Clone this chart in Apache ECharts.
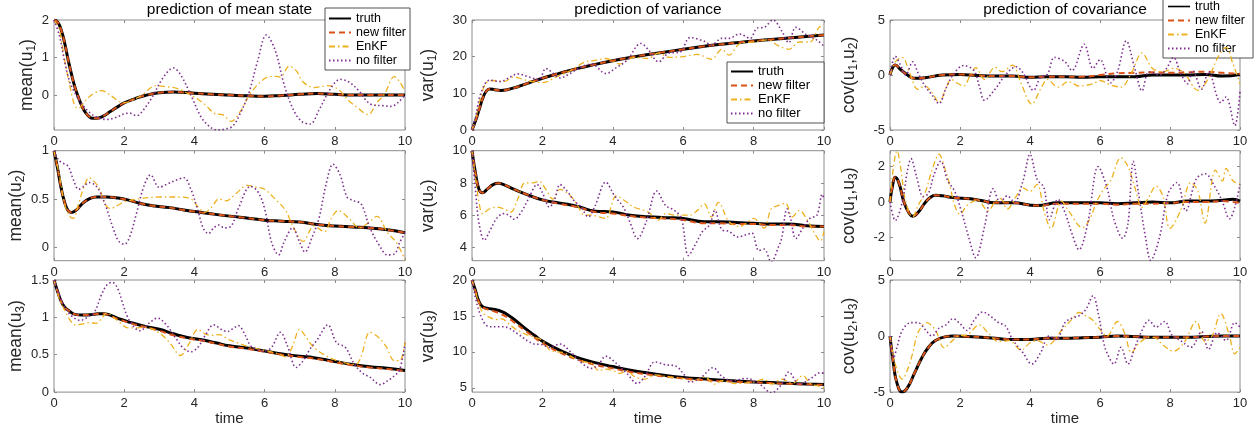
<!DOCTYPE html>
<html lang="en">
<head>
<meta charset="utf-8">
<title>prediction of mean state, variance and covariance</title>
<script src="https://cdn.jsdelivr.net/npm/echarts@6/dist/echarts.min.js"></script>
<style>
  html, body { margin: 0; padding: 0; background: #fff; }
  #main { width: 1255px; height: 427px; }
</style>
</head>
<body>
<div id="main"></div>
<script>
// ---- data: [time, value] ----
var seriesNames = ['truth', 'new filter', 'EnKF', 'no filter'];
var timeTicks = [0, 2, 4, 6, 8, 10];

// mean(u1)
var mean1Truth = [[0,2],[0.1,1.95],[0.2,1.75],[0.3,1.4],[0.4,0.95],[0.5,0.55],[0.6,0.2],[0.7,-0.07],[0.8,-0.3],[0.9,-0.47],[1.0,-0.57],[1.1,-0.62],[1.2,-0.62],[1.4,-0.56],[1.6,-0.44],[1.8,-0.32],[2.0,-0.21],[2.3,-0.1],[2.6,-0.01],[3.0,0.06],[3.4,0.08],[4.0,0.05],[4.5,0.02],[5.0,0.0],[5.5,-0.02],[6.0,-0.03],[6.5,-0.01],[7.0,0.02],[7.5,0.04],[8.0,0.02],[8.5,0.0],[9.0,0.0],[10,0.0]];
var mean1New = mean1Truth;
var mean1EnKF = [[0,2],[0.15,1.75],[0.3,0.95],[0.45,0.25],[0.6,-0.3],[0.7,-0.35],[0.85,-0.2],[1.0,-0.05],[1.2,0.08],[1.35,0.12],[1.6,0.0],[1.85,-0.17],[2.0,-0.2],[2.2,-0.15],[2.5,0.0],[2.9,0.25],[3.2,0.22],[3.5,0.18],[3.8,0.05],[4.0,-0.05],[4.3,-0.25],[4.6,-0.5],[4.8,-0.52],[5.05,-0.7],[5.3,-0.45],[5.6,0.05],[6.0,0.44],[6.3,0.5],[6.45,0.48],[6.7,0.77],[6.9,0.65],[7.1,0.35],[7.4,0.2],[7.8,0.25],[8.1,0.15],[8.4,-0.15],[8.6,-0.3],[8.95,-0.52],[9.2,-0.2],[9.4,0.0],[9.7,0.49],[9.85,0.35],[10,0.1]];
var mean1NoFilter = [[0,2],[0.15,1.6],[0.3,0.9],[0.45,0.35],[0.6,0.05],[0.8,-0.25],[1.0,-0.45],[1.2,-0.58],[1.5,-0.65],[1.75,-0.6],[2.0,-0.5],[2.15,-0.48],[2.35,-0.55],[2.5,-0.45],[2.8,-0.05],[3.1,0.45],[3.4,0.72],[3.6,0.55],[3.9,0.0],[4.2,-0.6],[4.45,-0.85],[4.65,-0.93],[4.9,-0.9],[5.1,-0.82],[5.3,-0.5],[5.55,0.05],[5.8,0.9],[6.05,1.6],[6.3,1.2],[6.55,0.3],[6.8,-0.35],[7.05,-0.7],[7.3,-0.77],[7.55,-0.4],[7.8,0.05],[8.0,0.33],[8.15,0.42],[8.4,0.35],[8.7,0.1],[8.9,-0.15],[9.1,-0.27],[9.35,-0.28],[9.6,-0.3],[9.8,-0.2],[10,0.0]];

// var(u1)
var var1Truth = [[0,0],[0.1,2.5],[0.2,5.5],[0.3,8.5],[0.4,10.5],[0.5,11.2],[0.65,11.0],[0.8,10.8],[1.0,11.0],[1.3,11.8],[1.6,12.8],[2.0,14.1],[2.5,15.5],[3.0,16.8],[3.5,17.9],[4.0,18.9],[4.5,19.8],[5.0,20.6],[5.5,21.3],[6.0,22.0],[6.5,22.7],[7.0,23.3],[7.5,23.8],[8.0,24.3],[8.5,24.7],[9.0,25.1],[9.5,25.5],[10,25.9]];
var var1New = var1Truth;
var var1EnKF = [[0,0],[0.1,3],[0.25,9],[0.4,12.8],[0.6,13.5],[0.9,13.2],[1.2,14.5],[1.45,13.8],[1.7,13.2],[2.0,12.9],[2.4,14.5],[2.8,16.2],[3.2,18.5],[3.5,19.0],[3.8,19.5],[4.2,18.0],[4.6,19.8],[5.0,19.5],[5.3,21.0],[5.6,19.8],[6.0,20.0],[6.4,20.6],[6.8,19.3],[7.1,22.0],[7.3,20.4],[7.6,23.5],[8.0,24.0],[8.4,24.6],[8.7,23.0],[9.0,22.0],[9.3,24.0],[9.6,24.0],[9.9,28.2],[10,27.5]];
var var1NoFilter = [[0,0],[0.1,3.5],[0.25,10],[0.5,13.6],[0.8,13.2],[1.0,14.0],[1.3,15.3],[1.6,14.5],[1.9,13.8],[2.1,16.8],[2.3,15.5],[2.5,14.2],[2.8,15.5],[3.1,17.2],[3.4,18.0],[3.8,15.4],[4.1,17.0],[4.4,19.0],[4.8,23.6],[5.0,22.0],[5.3,18.6],[5.6,21.0],[5.9,21.2],[6.2,25.2],[6.6,24.2],[6.8,23.2],[7.1,25.0],[7.3,25.0],[7.6,26.2],[7.9,25.0],[8.1,27.8],[8.3,28.0],[8.55,30.0],[8.8,27.0],[9.0,23.8],[9.2,28.0],[9.5,26.0],[9.8,24.5],[10,22.8]];

// cov(u1,u2)
var cov12Truth = [[0,0],[0.05,0.5],[0.15,0.9],[0.3,0.5],[0.5,0.0],[0.7,-0.3],[1.0,-0.25],[1.5,0.0],[2.0,0.05],[2.5,-0.05],[3.0,-0.1],[3.5,-0.1],[4.0,-0.2],[4.5,-0.15],[5.0,-0.15],[5.5,-0.2],[6.0,-0.15],[6.5,-0.15],[7.0,-0.15],[7.5,0.0],[8.0,0.0],[8.5,0.0],[9.0,0.05],[9.5,-0.1],[10,0.05]];
var cov12New = [[0,0],[0.05,0.5],[0.15,0.9],[0.3,0.5],[0.5,0.0],[0.7,-0.3],[1.0,-0.25],[1.5,0.0],[2.0,0.05],[2.5,-0.05],[3.0,-0.1],[3.5,-0.1],[4.0,-0.2],[4.5,-0.15],[5.0,-0.15],[5.5,-0.15],[6.0,0.0],[6.5,0.15],[7.0,0.2],[7.5,0.25],[8.0,0.2],[8.5,0.25],[9.0,0.3],[9.5,0.2],[10,0.1]];
var cov12EnKF = [[0,0],[0.15,1.2],[0.35,1.6],[0.55,0.3],[0.8,-1.3],[1.0,-1.0],[1.2,-1.6],[1.4,-2.5],[1.6,-1.2],[1.75,-0.4],[1.9,-0.7],[2.1,-1.0],[2.3,0.0],[2.45,0.66],[2.7,-0.4],[3.0,0.7],[3.2,0.3],[3.5,0.9],[3.75,-0.8],[4.05,-2.65],[4.3,-1.3],[4.5,-0.4],[4.8,-1.1],[5.1,-0.6],[5.4,-1.0],[5.8,-0.8],[6.0,-0.5],[6.3,-0.9],[6.6,-1.1],[6.9,0.2],[7.2,2.0],[7.5,0.6],[7.8,0.3],[8.1,0.6],[8.4,0.2],[8.8,-1.4],[9.1,-0.3],[9.35,1.5],[9.6,2.5],[9.8,1.0],[10,-0.8]];
var cov12NoFilter = [[0,0],[0.15,1.7],[0.3,0.9],[0.45,0.0],[0.65,1.2],[0.8,0.2],[1.0,-1.0],[1.2,-1.8],[1.4,-2.6],[1.6,-1.2],[1.8,0.0],[2.1,0.87],[2.4,0.4],[2.55,-1.0],[2.7,-2.3],[3.0,-1.3],[3.3,0.0],[3.6,0.75],[3.8,0.2],[4.1,-1.4],[4.3,-0.2],[4.5,0.1],[4.7,1.6],[5.0,1.2],[5.2,0.4],[5.55,2.8],[5.8,0.6],[6.0,1.4],[6.3,-0.7],[6.5,0.3],[6.75,3.1],[7.0,0.5],[7.2,-1.45],[7.4,0.3],[7.7,0.0],[7.9,0.6],[8.1,1.6],[8.3,0.2],[8.5,-0.8],[8.65,0.4],[8.9,-1.3],[9.1,0.3],[9.45,-2.5],[9.6,-2.0],[9.85,-4.6],[10,-1.5]];

// mean(u2)
var mean2Truth = [[0,1],[0.1,0.82],[0.2,0.62],[0.3,0.47],[0.4,0.38],[0.5,0.36],[0.65,0.39],[0.8,0.45],[1.0,0.5],[1.2,0.52],[1.5,0.52],[1.8,0.51],[2.1,0.49],[2.5,0.45],[2.8,0.43],[3.3,0.41],[3.7,0.385],[4.0,0.37],[4.6,0.34],[5.3,0.31],[6.0,0.28],[6.5,0.27],[7.0,0.26],[7.5,0.235],[8.0,0.22],[8.5,0.21],[9.0,0.2],[9.5,0.18],[10,0.15]];
var mean2New = mean2Truth;
var mean2EnKF = [[0,1],[0.15,0.75],[0.3,0.45],[0.45,0.32],[0.55,0.3],[0.7,0.45],[0.85,0.62],[1.0,0.72],[1.15,0.68],[1.3,0.6],[1.45,0.45],[1.6,0.4],[1.8,0.43],[2.0,0.47],[2.4,0.5],[3.0,0.52],[3.5,0.52],[3.9,0.5],[4.1,0.42],[4.3,0.36],[4.5,0.42],[4.7,0.5],[4.9,0.48],[5.2,0.56],[5.5,0.64],[5.8,0.62],[6.0,0.6],[6.3,0.5],[6.6,0.38],[6.8,0.22],[7.1,0.06],[7.3,0.18],[7.4,0.22],[7.7,0.16],[7.9,0.3],[8.1,0.38],[8.4,0.3],[8.7,0.2],[8.95,0.25],[9.2,0.32],[9.5,0.15],[9.75,0.05],[10,-0.13]];
var mean2NoFilter = [[0,1],[0.1,0.92],[0.2,0.88],[0.4,0.84],[0.55,0.7],[0.7,0.6],[0.85,0.63],[1.0,0.67],[1.15,0.65],[1.3,0.58],[1.5,0.4],[1.7,0.18],[1.85,0.06],[2.0,0.03],[2.15,0.1],[2.35,0.35],[2.55,0.62],[2.75,0.75],[3.0,0.62],[3.2,0.65],[3.45,0.69],[3.7,0.72],[3.9,0.6],[4.1,0.38],[4.25,0.2],[4.4,0.14],[4.55,0.2],[4.7,0.23],[4.85,0.2],[5.05,0.22],[5.25,0.4],[5.6,0.63],[5.8,0.58],[6.0,0.4],[6.2,0.05],[6.4,-0.08],[6.55,0.05],[6.8,0.2],[7.0,0.05],[7.15,-0.05],[7.35,0.1],[7.55,0.3],[7.75,0.65],[7.95,0.86],[8.15,0.75],[8.35,0.52],[8.55,0.48],[8.75,0.45],[9.0,0.2],[9.3,0.0],[9.5,-0.08],[9.7,-0.07],[9.85,0.05],[10,0.15]];

// var(u2)
var var2Truth = [[0,10],[0.1,8.6],[0.2,7.6],[0.3,7.4],[0.45,7.65],[0.6,7.9],[0.75,7.98],[0.9,7.9],[1.2,7.6],[1.6,7.25],[2.0,6.95],[2.5,6.75],[3.0,6.55],[3.5,6.25],[4.0,6.2],[4.5,6.0],[5.0,5.9],[5.5,5.85],[6.0,5.8],[6.6,5.6],[7.0,5.6],[7.5,5.55],[8.0,5.5],[8.5,5.45],[9.0,5.45],[9.5,5.35],[10,5.3]];
var var2New = [[0,10],[0.1,8.6],[0.2,7.6],[0.3,7.4],[0.45,7.65],[0.6,7.9],[0.75,7.98],[0.9,7.9],[1.2,7.6],[1.6,7.25],[2.0,6.95],[2.5,6.7],[3.0,6.5],[3.5,6.2],[4.0,6.1],[4.5,5.95],[5.0,5.85],[5.5,5.8],[6.0,5.7],[6.6,5.5],[7.0,5.5],[7.5,5.45],[8.0,5.45],[8.5,5.4],[9.0,5.4],[9.5,5.3],[10,5.3]];
var var2EnKF = [[0,10],[0.1,8.3],[0.2,6.8],[0.3,6.1],[0.5,6.4],[0.7,6.5],[0.9,6.4],[1.1,6.2],[1.3,7.0],[1.5,8.0],[1.7,8.0],[1.9,8.1],[2.1,7.6],[2.3,7.0],[2.5,7.6],[2.8,7.2],[3.0,6.6],[3.2,6.0],[3.4,6.0],[3.6,5.9],[3.8,5.8],[4.1,7.2],[4.4,6.8],[4.6,6.5],[5.0,6.2],[5.3,5.7],[5.5,6.1],[5.8,6.0],[6.0,6.0],[6.2,6.0],[6.4,6.3],[6.6,6.7],[6.8,5.9],[7.0,6.8],[7.3,5.6],[7.6,5.3],[7.8,5.5],[8.0,5.8],[8.3,5.2],[8.5,6.4],[8.7,6.6],[8.9,6.75],[9.1,5.9],[9.3,6.3],[9.5,5.8],[9.7,5.0],[9.9,4.4],[10,5.0]];
var var2NoFilter = [[0,10],[0.1,7.5],[0.2,5.5],[0.35,4.45],[0.5,5.0],[0.7,5.8],[0.9,6.1],[1.05,6.0],[1.2,5.75],[1.4,6.2],[1.6,7.0],[1.85,7.9],[2.0,7.4],[2.2,6.5],[2.35,7.0],[2.5,7.9],[2.7,7.5],[2.9,6.9],[3.1,6.5],[3.3,5.9],[3.5,6.6],[3.8,8.05],[4.05,7.2],[4.3,6.5],[4.5,5.5],[4.7,4.55],[4.95,5.6],[5.25,7.5],[5.5,6.6],[5.75,6.3],[5.95,5.8],[6.15,3.5],[6.35,4.2],[6.55,5.0],[6.75,5.4],[6.9,6.3],[7.1,5.1],[7.3,5.0],[7.55,4.65],[7.8,4.8],[7.95,4.9],[8.15,3.8],[8.3,3.9],[8.5,3.1],[8.7,4.0],[8.8,4.6],[8.95,6.4],[9.05,5.8],[9.2,4.55],[9.4,5.2],[9.6,5.8],[9.8,6.0],[9.95,7.3],[10,7.0]];

// cov(u1,u3)
var cov13Truth = [[0,0],[0.08,1.0],[0.15,1.4],[0.25,1.1],[0.4,0.0],[0.55,-0.65],[0.65,-0.8],[0.8,-0.6],[1.0,-0.05],[1.15,0.25],[1.3,0.38],[1.5,0.35],[1.8,0.25],[2.3,0.18],[2.6,0.08],[3.0,-0.05],[3.5,-0.05],[4.2,-0.2],[4.8,-0.05],[5.5,-0.05],[6.0,-0.05],[6.5,-0.1],[7.0,-0.05],[7.5,0.0],[8.0,-0.05],[8.5,0.05],[9.0,0.05],[9.5,0.1],[9.8,0.15],[10,0.05]];
var cov13New = [[0,0],[0.08,1.0],[0.15,1.4],[0.25,1.1],[0.4,0.0],[0.55,-0.65],[0.65,-0.8],[0.8,-0.6],[1.0,-0.05],[1.15,0.25],[1.3,0.38],[1.5,0.35],[1.8,0.25],[2.3,0.18],[2.6,0.08],[3.0,-0.05],[3.5,-0.05],[4.2,-0.2],[4.8,-0.1],[5.5,-0.1],[6.0,-0.1],[6.5,-0.15],[7.0,-0.1],[7.5,-0.1],[8.0,-0.05],[8.5,0.0],[9.0,0.0],[9.5,0.05],[9.8,0.0],[10,-0.05]];
var cov13EnKF = [[0,0],[0.1,2.0],[0.2,2.9],[0.3,2.0],[0.45,0.0],[0.65,-0.85],[0.8,-0.2],[1.0,0.5],[1.2,1.8],[1.4,2.7],[1.55,2.0],[1.7,1.0],[1.85,-0.2],[2.0,-0.7],[2.2,-0.2],[2.5,0.1],[2.8,-0.5],[3.0,0.0],[3.15,0.2],[3.35,-0.4],[3.6,0.3],[3.8,0.8],[4.0,0.6],[4.2,1.0],[4.4,-0.5],[4.6,-1.5],[4.9,0.05],[5.1,-0.5],[5.5,-1.45],[5.7,-1.0],[5.9,0.0],[6.1,0.7],[6.3,1.2],[6.6,2.5],[6.8,2.0],[7.0,0.8],[7.2,-0.3],[7.4,0.3],[7.6,0.9],[7.8,0.3],[8.0,-1.5],[8.3,-0.5],[8.6,1.1],[8.8,0.6],[9.0,-1.2],[9.3,1.8],[9.5,1.2],[9.6,1.9],[9.8,1.2],[10,1.0]];
var cov13NoFilter = [[0,0],[0.15,-1.05],[0.35,0.0],[0.5,1.8],[0.6,2.45],[0.75,1.5],[0.95,0.3],[1.1,0.5],[1.25,1.5],[1.45,2.3],[1.65,1.2],[1.85,0.6],[2.05,-0.6],[2.25,-2.0],[2.45,-3.15],[2.7,-1.4],[2.95,0.75],[3.15,0.0],[3.35,0.35],[3.55,0.0],[3.8,1.2],[4.0,2.7],[4.2,1.3],[4.4,0.8],[4.55,-1.0],[4.8,0.15],[5.0,-0.6],[5.2,-1.8],[5.4,-2.7],[5.65,-1.2],[5.95,2.0],[6.2,0.8],[6.4,-1.0],[6.65,-2.05],[6.8,-1.2],[6.95,2.3],[7.1,0.5],[7.3,-2.0],[7.45,-3.3],[7.7,-2.0],[7.95,0.5],[8.2,1.1],[8.45,-0.5],[8.75,1.3],[9.0,1.6],[9.3,0.8],[9.5,0.0],[9.7,-0.95],[9.85,-0.3],[10,1.0]];

// mean(u3)
var mean3Truth = [[0,1.5],[0.1,1.35],[0.2,1.22],[0.3,1.14],[0.45,1.08],[0.6,1.04],[0.8,1.03],[1.0,1.035],[1.2,1.045],[1.4,1.05],[1.6,1.03],[1.8,0.99],[2.0,0.96],[2.2,0.93],[2.6,0.88],[3.0,0.84],[3.4,0.78],[3.8,0.73],[4.2,0.7],[4.6,0.66],[5.0,0.62],[5.5,0.59],[6.0,0.55],[6.5,0.51],[7.0,0.48],[7.4,0.46],[8.0,0.41],[8.5,0.37],[9.0,0.34],[9.5,0.32],[10,0.29]];
var mean3New = [[0,1.5],[0.1,1.35],[0.2,1.22],[0.3,1.14],[0.45,1.08],[0.6,1.04],[0.8,1.03],[1.0,1.035],[1.2,1.045],[1.4,1.05],[1.6,1.02],[1.8,0.98],[2.0,0.95],[2.2,0.92],[2.6,0.87],[3.0,0.82],[3.4,0.76],[3.8,0.72],[4.2,0.69],[4.6,0.65],[5.0,0.61],[5.5,0.58],[6.0,0.54],[6.5,0.5],[7.0,0.47],[7.4,0.45],[8.0,0.4],[8.5,0.36],[9.0,0.33],[9.5,0.31],[10,0.28]];
var mean3EnKF = [[0,1.5],[0.15,1.25],[0.3,1.1],[0.45,0.97],[0.6,0.9],[0.8,0.91],[1.0,0.93],[1.2,0.92],[1.35,0.98],[1.5,1.06],[1.7,1.0],[1.9,0.92],[2.1,0.86],[2.4,0.86],[2.6,0.87],[3.0,0.79],[3.3,0.66],[3.6,0.49],[3.85,0.65],[4.1,0.84],[4.3,0.78],[4.5,0.76],[4.7,0.77],[5.0,0.7],[5.4,0.63],[5.7,0.59],[6.0,0.56],[6.4,0.51],[6.6,0.47],[6.8,0.62],[7.0,0.84],[7.2,0.72],[7.4,0.6],[7.7,0.5],[8.0,0.43],[8.3,0.39],[8.6,0.37],[8.75,0.48],[9.0,0.8],[9.2,0.75],[9.45,0.62],[9.7,0.42],[9.85,0.42],[10,0.67]];
var mean3NoFilter = [[0,1.5],[0.15,1.3],[0.35,1.1],[0.55,1.0],[0.75,0.96],[0.95,1.0],[1.15,1.07],[1.35,1.3],[1.5,1.43],[1.65,1.47],[1.8,1.4],[1.95,1.2],[2.1,1.0],[2.3,0.86],[2.45,0.82],[2.7,0.92],[2.95,0.99],[3.2,0.9],[3.5,0.7],[3.7,0.58],[3.9,0.54],[4.1,0.6],[4.3,0.75],[4.55,0.9],[4.8,0.83],[4.95,0.81],[5.1,0.85],[5.25,0.89],[5.45,0.76],[5.6,0.62],[5.8,0.57],[6.0,0.55],[6.2,0.6],[6.45,0.8],[6.65,0.62],[6.9,0.33],[7.1,0.42],[7.3,0.58],[7.5,0.7],[7.8,0.9],[8.05,0.66],[8.3,0.6],[8.55,0.38],[8.8,0.25],[9.0,0.2],[9.3,0.1],[9.5,0.15],[9.7,0.22],[9.85,0.3],[10,0.65]];

// var(u3)
var var3Truth = [[0,20],[0.1,18.5],[0.2,17.0],[0.3,16.3],[0.45,16.05],[0.65,15.9],[0.85,15.6],[1.0,15.2],[1.2,14.5],[1.5,13.3],[1.8,12.2],[2.0,11.5],[2.5,10.2],[3.0,9.2],[3.5,8.5],[4.0,7.95],[4.5,7.45],[5.0,7.05],[5.5,6.72],[6.0,6.45],[6.5,6.25],[7.0,6.1],[7.5,5.95],[8.0,5.82],[8.5,5.72],[9.0,5.62],[9.5,5.52],[10,5.45]];
var var3New = [[0,20],[0.1,18.4],[0.2,16.9],[0.3,16.2],[0.45,15.9],[0.65,15.6],[0.85,15.2],[1.0,14.8],[1.2,14.1],[1.5,13.0],[1.8,11.9],[2.0,11.2],[2.5,9.9],[3.0,8.9],[3.5,8.2],[4.0,7.7],[4.5,7.2],[5.0,6.85],[5.5,6.55],[6.0,6.3],[6.5,6.1],[7.0,5.95],[7.5,5.85],[8.0,5.75],[8.5,5.65],[9.0,5.55],[9.5,5.48],[10,5.4]];
var var3EnKF = [[0,20],[0.15,17.5],[0.3,15.5],[0.5,14.8],[0.7,14.5],[0.85,14.6],[1.0,14.1],[1.2,13.3],[1.5,12.5],[1.8,12.0],[2.0,11.6],[2.2,10.3],[2.4,10.0],[2.6,9.9],[2.8,9.4],[3.0,8.9],[3.2,8.6],[3.4,8.4],[3.6,7.4],[3.8,7.6],[4.0,7.4],[4.2,7.0],[4.4,7.4],[4.6,6.6],[4.9,6.2],[5.2,6.8],[5.6,6.5],[6.0,6.3],[6.3,6.0],[6.6,6.5],[6.9,5.5],[7.1,6.0],[7.5,5.6],[8.0,5.8],[8.3,6.2],[8.5,5.5],[8.8,6.2],[9.1,5.6],[9.4,6.7],[9.6,5.6],[9.8,5.3],[10,5.0]];
var var3NoFilter = [[0,20],[0.15,16.5],[0.35,14.0],[0.5,13.5],[0.8,13.5],[1.0,13.4],[1.3,12.5],[1.7,11.2],[2.0,11.0],[2.2,10.6],[2.5,11.1],[2.8,10.0],[3.1,8.5],[3.4,7.7],[3.6,8.3],[3.8,9.4],[4.1,8.4],[4.4,7.0],[4.7,5.6],[4.9,6.5],[5.2,8.6],[5.5,8.2],[5.8,8.0],[6.0,7.0],[6.2,5.8],[6.5,6.4],[6.85,7.8],[7.1,6.6],[7.4,6.0],[7.8,6.3],[8.2,5.4],[8.5,4.3],[8.8,5.5],[9.0,7.2],[9.3,5.5],[9.6,6.2],[9.9,7.1],[10,7.0]];

// cov(u2,u3)
var cov23Truth = [[0,0],[0.1,-2.5],[0.2,-4.2],[0.35,-5.0],[0.5,-4.6],[0.7,-3.3],[0.9,-2.0],[1.1,-1.0],[1.3,-0.4],[1.6,-0.05],[1.8,0.0],[2.2,-0.05],[2.6,-0.1],[3.0,-0.2],[3.5,-0.3],[4.0,-0.3],[4.5,-0.2],[5.0,-0.2],[5.5,-0.15],[6.0,-0.1],[6.5,0.0],[7.0,-0.05],[7.5,-0.1],[8.0,-0.1],[8.5,-0.1],[9.0,-0.05],[9.5,0.0],[10,0.0]];
var cov23New = cov23Truth;
var cov23EnKF = [[0,0],[0.15,-2.5],[0.35,-3.85],[0.5,-3.0],[0.65,-1.5],[0.8,0.3],[1.05,1.2],[1.3,0.5],[1.55,-1.05],[1.75,-0.5],[1.95,0.0],[2.2,0.1],[2.55,1.0],[2.8,0.3],[3.1,-0.5],[3.4,-0.4],[3.75,-1.25],[4.0,-0.6],[4.2,-0.4],[4.5,-0.8],[4.9,0.5],[5.2,1.5],[5.4,2.1],[5.6,1.8],[5.8,1.4],[6.0,0.6],[6.2,0.0],[6.5,1.3],[6.7,0.3],[6.9,-1.5],[7.1,-0.7],[7.4,-0.1],[7.6,-0.2],[7.8,-0.8],[8.1,-1.35],[8.4,-0.6],[8.75,1.3],[9.0,-0.5],[9.2,0.0],[9.45,2.0],[9.7,0.0],[9.85,-1.6],[10,-1.0]];
var cov23NoFilter = [[0,0],[0.1,-1.97],[0.2,-1.0],[0.35,0.5],[0.6,1.2],[0.8,1.2],[1.0,0.6],[1.2,0.0],[1.4,0.7],[1.6,1.0],[1.8,1.55],[2.0,1.1],[2.2,0.5],[2.4,1.4],[2.65,2.15],[2.9,1.7],[3.1,1.2],[3.3,0.9],[3.5,-0.3],[3.8,-1.5],[4.05,-2.5],[4.3,-1.5],[4.55,0.0],[4.75,-0.3],[5.0,1.2],[5.2,1.6],[5.4,1.8],[5.6,2.4],[5.8,3.6],[5.95,2.0],[6.1,-0.5],[6.2,-1.5],[6.4,-2.5],[6.6,-1.0],[6.8,-2.5],[7.0,-1.0],[7.2,0.5],[7.4,1.4],[7.6,0.8],[7.85,1.3],[8.05,0.1],[8.3,-0.4],[8.6,-1.0],[8.9,0.4],[9.1,-1.2],[9.35,0.3],[9.6,-0.4],[9.85,1.2],[10,0.8]];

// ---- panels, row by row ----
var panels = [
  { lines: [mean1Truth, mean1New, mean1EnKF, mean1NoFilter], range: [-0.93, 2], ticks: [0, 1, 2], label: '{n|mean(u}{s|1}{n|)}' },
  { lines: [var1Truth, var1New, var1EnKF, var1NoFilter], range: [0, 30], ticks: [0, 10, 20, 30], label: '{n|var(u}{s|1}{n|)}' },
  { lines: [cov12Truth, cov12New, cov12EnKF, cov12NoFilter], range: [-5, 5], ticks: [-5, 0, 5], label: '{n|cov(u}{s|1}{n|,u}{s|2}{n|)}' },
  { lines: [mean2Truth, mean2New, mean2EnKF, mean2NoFilter], range: [-0.14, 1], ticks: [0, 0.5, 1], label: '{n|mean(u}{s|2}{n|)}' },
  { lines: [var2Truth, var2New, var2EnKF, var2NoFilter], range: [3.18, 10], ticks: [4, 6, 8, 10], label: '{n|var(u}{s|2}{n|)}' },
  { lines: [cov13Truth, cov13New, cov13EnKF, cov13NoFilter], range: [-3.32, 2.9], ticks: [-2, 0, 2], label: '{n|cov(u}{s|1}{n|,u}{s|3}{n|)}' },
  { lines: [mean3Truth, mean3New, mean3EnKF, mean3NoFilter], range: [0, 1.5], ticks: [0, 0.5, 1, 1.5], label: '{n|mean(u}{s|3}{n|)}' },
  { lines: [var3Truth, var3New, var3EnKF, var3NoFilter], range: [4.4, 20], ticks: [5, 10, 15, 20], label: '{n|var(u}{s|3}{n|)}' },
  { lines: [cov23Truth, cov23New, cov23EnKF, cov23NoFilter], range: [-5, 5], ticks: [-5, 0, 5], label: '{n|cov(u}{s|2}{n|,u}{s|3}{n|)}' }
];
var titles = ['prediction of mean state', 'prediction of variance', 'prediction of covariance'];

// ---- layout & style ----
var font = '"Liberation Sans", Arial, Helvetica, sans-serif';
var ink = '#262626';
var frame = '#8c8c8c';
var colLeft = [54, 472, 890];
var colWidth = [351, 352, 350];
var rowTop = [20, 150.7, 280];
var rowHeight = [110, 110, 115];
var nameGaps = [14, 33, 30];

var lineStyles = [
  { color: '#000000', width: 3, type: 'solid' },
  { color: '#D95319', width: 2, type: [6, 4] },
  { color: '#EDB120', width: 1.3, type: [6, 3, 1.5, 3] },
  { color: '#7E2F8E', width: 1.6, type: [1.5, 2.5] }
];
var smoothness = [0.5, 0.5, 0.35, 0.35];

var grids = [], xAxes = [], yAxes = [], series = [];
var nameRich = {
  n: { fontSize: 17.5, lineHeight: 22, fontFamily: font, color: ink },
  s: { fontSize: 12, verticalAlign: 'bottom', fontFamily: font, color: ink }
};

panels.forEach(function (p, i) {
  var row = Math.floor(i / 3), col = i % 3;
  grids.push({
    left: colLeft[col], top: rowTop[row], width: colWidth[col], height: rowHeight[row],
    show: true, borderColor: frame, borderWidth: 1, backgroundColor: '#fff'
  });
  var tick = { inside: true, length: 3, lineStyle: { color: frame } };
  var noLine = { show: false, onZero: false };
  xAxes.push({
    type: 'value', gridIndex: i, position: 'bottom', min: 0, max: 10, interval: 2,
    axisLine: noLine, splitLine: { show: false },
    axisTick: tick,
    axisLabel: { color: ink, fontSize: 13, fontFamily: font, margin: 5 },
    name: row === 2 ? 'time' : '', nameLocation: 'middle', nameGap: 13,
    nameTextStyle: { color: ink, fontSize: 15, fontFamily: font }
  });
  xAxes.push({
    type: 'value', gridIndex: i, position: 'top', min: 0, max: 10, interval: 2,
    axisLine: noLine, splitLine: { show: false },
    axisTick: tick, axisLabel: { show: false }
  });
  yAxes.push({
    type: 'value', gridIndex: i, position: 'left', min: p.range[0], max: p.range[1],
    axisLine: noLine, splitLine: { show: false },
    axisTick: { inside: true, length: 3, lineStyle: { color: frame }, customValues: p.ticks },
    axisLabel: { customValues: p.ticks, color: ink, fontSize: 13, fontFamily: font, margin: 5 },
    name: p.label, nameLocation: 'middle', nameRotate: 90, nameGap: nameGaps[col],
    nameTextStyle: { color: ink, fontFamily: font, rich: nameRich }
  });
  yAxes.push({
    type: 'value', gridIndex: i, position: 'right', min: p.range[0], max: p.range[1],
    axisLine: noLine, splitLine: { show: false },
    axisTick: { inside: true, length: 3, lineStyle: { color: frame }, customValues: p.ticks },
    axisLabel: { show: false }
  });
  p.lines.forEach(function (d, j) {
    series.push({
      type: 'line', name: seriesNames[j],
      xAxisIndex: 2 * i, yAxisIndex: 2 * i,
      data: d, symbol: 'none', showSymbol: false,
      smooth: smoothness[j],
      color: lineStyles[j].color,
      lineStyle: lineStyles[j],
      z: 2 + j
    });
  });
});

var legendBase = {
  orient: 'vertical', itemWidth: 22, itemHeight: 12, itemGap: 1,
  backgroundColor: '#fff', borderColor: ink, borderWidth: 0.8,
  itemStyle: { opacity: 0 },
  textStyle: { color: '#000', fontSize: 12.5, fontFamily: font },
  selectedMode: false, data: seriesNames
};
var legends = [
  Object.assign({}, legendBase, { left: 325, top: 8, padding: [4, 4, 3, 3] }),
  Object.assign({}, legendBase, { left: 727, top: 62, padding: [3, 14, 3, 3], textStyle: { color: '#000', fontSize: 13, fontFamily: font } }),
  Object.assign({}, legendBase, {
    left: 1163, top: -5, padding: [5, 8, 3, 4],
    data: [{ name: 'truth', lineStyle: { width: 1.6 } }, 'new filter', 'EnKF', 'no filter']
  })
];

var graphics = titles.map(function (t, c) {
  return {
    type: 'text', x: colLeft[c] + colWidth[c] / 2, y: 2,
    style: { text: t, fontSize: 15.5, fontFamily: font, fill: '#000', align: 'center', verticalAlign: 'top' }
  };
});

var chart = echarts.init(document.getElementById('main'));
chart.setOption({
  animation: false,
  backgroundColor: '#fff',
  grid: grids,
  xAxis: xAxes,
  yAxis: yAxes,
  legend: legends,
  graphic: graphics,
  series: series
});
</script>
</body>
</html>
